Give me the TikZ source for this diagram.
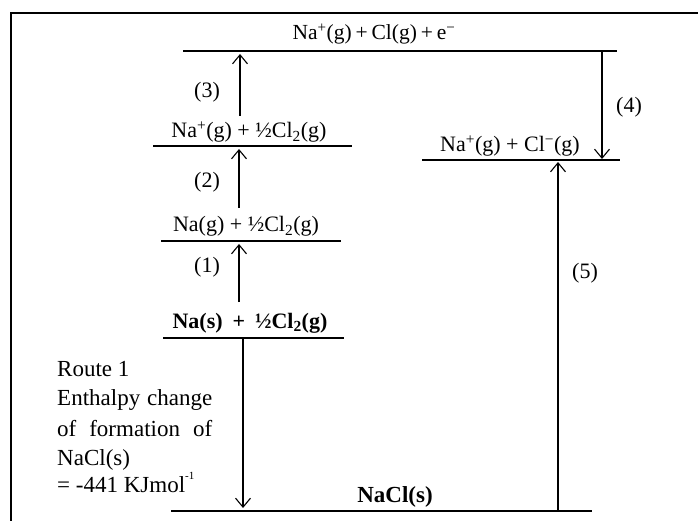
\documentclass[tikz,border=0pt]{standalone}
\usepackage{fontspec}
\setmainfont{Liberation Serif}
\usetikzlibrary{arrows.meta}
\newcommand{\half}{½}
\newcommand{\gapA}{\hspace{0.18em}}
\newcommand{\gapB}{\hspace{0.45em}}
\newcommand{\smallsup}[1]{\raisebox{0.55em}{\fontsize{11}{11}\selectfont #1}}
\begin{document}
\begin{tikzpicture}[x=1pt,y=-1pt,
  level/.style={line width=1.3pt},
  frameline/.style={line width=2.6pt},
  arr/.style={line width=1.1pt,-{Straight Barb[length=9pt,width=15pt,line width=1.1pt]}},
  txt/.style={font=\fontsize{22}{26}\selectfont, inner sep=0pt, anchor=base},
  boldtxt/.style={txt, font=\fontsize{23}{27}\selectfont\bfseries},
  lefttxt/.style={txt, font=\fontsize{23}{27}\selectfont, anchor=base west},
  num/.style={font=\fontsize{22}{26}\selectfont, inner sep=0pt}]
\useasboundingbox (0,0) rectangle (698,521);

% outer frame (only its top and left sides fall on the page)
\draw[frameline] (11,530) -- (11,13) -- (710,13);

% energy levels
\coordinate (t1) at (183,51);  \coordinate (t2) at (617,51);
\coordinate (a1) at (153,146); \coordinate (a2) at (352,146);
\coordinate (g1) at (161,241); \coordinate (g2) at (341,241);
\coordinate (s1) at (163,338); \coordinate (s2) at (344,338);
\coordinate (c1) at (422,160); \coordinate (c2) at (620,160);
\coordinate (b1) at (171,511); \coordinate (b2) at (592,511);
\draw[level] (t1) -- (t2);
\draw[level] (a1) -- (a2);
\draw[level] (g1) -- (g2);
\draw[level] (s1) -- (s2);
\draw[level] (c1) -- (c2);
\draw[level] (b1) -- (b2);

% level labels
\node[txt,font=\fontsize{21.5}{26}\selectfont] (ltop) at (374,40)
  {Na\textsuperscript{+}(g)\gapA+\gapA Cl(g)\gapA+\gapA e\textsuperscript{−}};
\node[txt] (lion) at (249,138) {Na\textsuperscript{+}(g) + \half Cl\textsubscript{2}(g)};
\node[txt] (latom) at (246,232) {Na(g) + \half Cl\textsubscript{2}(g)};
\node[boldtxt,font=\fontsize{22}{26}\selectfont\bfseries] (lstd) at (250,328)
  {Na(s)\gapB+\gapB\half Cl\textsubscript{2}(g)};
\node[txt] (lgas) at (510,152) {Na\textsuperscript{+}(g) + Cl\textsuperscript{−}(g)};
\node[boldtxt] (lsalt) at (395,502) {NaCl(s)};

% step arrows
\coordinate (p1a) at (239,302); \coordinate (p1b) at (239,244);
\coordinate (p2a) at (239,208); \coordinate (p2b) at (239,149);
\coordinate (p3a) at (240,116); \coordinate (p3b) at (240,54);
\coordinate (p4a) at (602,51);  \coordinate (p4b) at (602,159);
\coordinate (p5a) at (558,511); \coordinate (p5b) at (558,162);
\coordinate (rta) at (243,338); \coordinate (rtb) at (243,508);
\draw[arr] (p1a) -- (p1b);
\draw[arr] (p2a) -- (p2b);
\draw[arr] (p3a) -- (p3b);
\draw[arr] (p4a) -- (p4b);
\draw[arr] (p5a) -- (p5b);
\draw[arr] (rta) -- (rtb);

% step numbers
\node[num] (n1) at (207,267) {(1)};
\node[num] (n2) at (207,182) {(2)};
\node[num] (n3) at (207,92) {(3)};
\node[num] (n4) at (629,107) {(4)};
\node[num] (n5) at (585,273) {(5)};

% route description
\node[lefttxt] (r1) at (57,376) {Route 1};
\node[lefttxt] (r2) at (57,405) {\makebox[155pt][s]{Enthalpy change}};
\node[lefttxt] (r3) at (57,436) {\makebox[155pt][s]{of formation of}};
\node[lefttxt] (r4) at (57,465) {NaCl(s)};
\node[lefttxt] (r5) at (57,492) {= -441 KJmol\smallsup{-1}};
\end{tikzpicture}
\end{document}
